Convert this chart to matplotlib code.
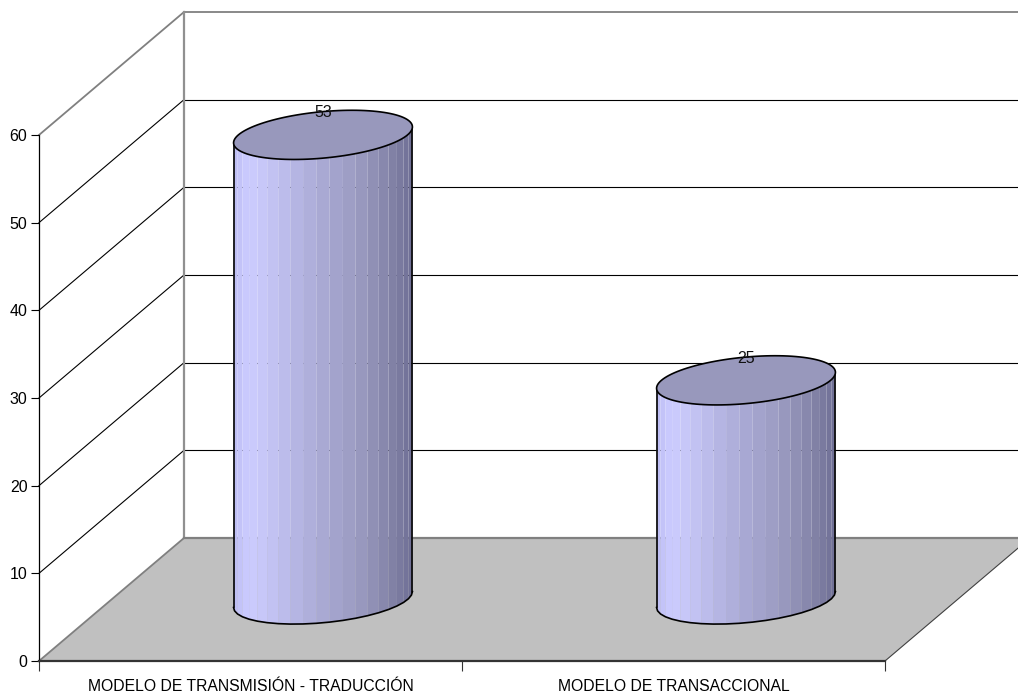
import numpy as np
import matplotlib
matplotlib.use("Agg")
import matplotlib.pyplot as plt
from matplotlib.colors import LinearSegmentedColormap

categories = ["MODELO DE TRANSMISIÓN - TRADUCCIÓN", "MODELO DE TRANSACCIONAL"]
values = [53, 25]
y_ticks = [0, 10, 20, 30, 40, 50, 60]

W, H = 1018, 695
# front plane of the 3D box, in pixels
X0, X1, Y0, Y60 = 39, 885, 661, 135
# depth of the box, in data units
DX = 145 / ((X1 - X0) / 2)
DY = 123 / ((Y0 - Y60) / 60)
BAR_W = 0.4
STRIPS = 21

plt.rcParams['font.family'] = ['Liberation Sans', 'DejaVu Sans']

fig = plt.figure(figsize=(W / 100, H / 100), dpi=100)
ax = fig.add_axes([X0 / W, 1 - Y0 / H, (X1 - X0) / W, (Y0 - Y60) / H])
ax.patch.set_visible(False)
ax.set_xlim(0, len(categories))
ax.set_ylim(y_ticks[0], y_ticks[-1])

# side wall, back wall and gridlines
xmax = len(categories)
for v in y_ticks[1:]:
    col = "#808080" if v == y_ticks[-1] else "black"
    lw = 1.3 if v == y_ticks[-1] else 0.8
    ax.plot([0, DX], [v, v + DY], color=col, lw=lw, zorder=1, clip_on=False)
    ax.plot([DX, xmax + DX], [v + DY, v + DY], color=col, lw=lw, zorder=1, clip_on=False)
ax.plot([DX, DX], [DY, y_ticks[-1] + DY], color="#909090", lw=1.6, zorder=1.2, clip_on=False)

# floor
ax.fill([0, xmax, xmax + DX, DX], [0, 0, DY, DY], color="#c0c0c0", lw=0, zorder=1.5, clip_on=False)
ax.plot([DX, xmax + DX], [DY, DY], color="#808080", lw=1.6, zorder=1.6, clip_on=False)
ax.plot([0, DX], [0, DY], color="#808080", lw=1.3, zorder=1.6, clip_on=False)
ax.plot([xmax, xmax + DX], [0, DY], color="#404040", lw=0.8, zorder=1.6, clip_on=False)

shade = LinearSegmentedColormap.from_list(
    "cyl", [(0, "#bcbcf2"), (0.08, "#ccccff"), (0.2, "#c4c4f4"), (0.45, "#acacd8"),
            (0.7, "#9a9ac0"), (0.9, "#8080a4"), (1, "#6e6e94")])


def ring(cx, base, t):
    # points on the cylinder's circle, sheared along the depth direction
    x = cx + BAR_W / 2 * np.cos(t) + BAR_W * DX / 2 * np.sin(t)
    y = base + BAR_W * DY / 2 * np.sin(t)
    return x, y


for i, val in enumerate(values):
    cx = i + 0.5 + DX / 2
    base = DY / 2

    # angles of the silhouette, going left to right along the front
    a = np.arctan2(DX, 1.0)
    t_front = np.linspace(np.pi + a, 2 * np.pi + a, STRIPS + 1)
    xb, yb = ring(cx, base, t_front)
    xt, yt = ring(cx, base + val, t_front)
    xmin_c, xmax_c = xb.min(), xb.max()
    for k in range(STRIPS):
        c = shade(((xb[k] + xb[k + 1]) / 2 - xmin_c) / (xmax_c - xmin_c))
        ax.fill([xb[k], xb[k + 1], xt[k + 1], xt[k]], [yb[k], yb[k + 1], yt[k + 1], yt[k]],
                facecolor=c, edgecolor="none", lw=0, zorder=3, clip_on=False)

    # outline of the body and the bottom edge
    ax.plot(xb, yb, color="black", lw=1.2, zorder=4, clip_on=False)
    ax.plot([xb[0], xt[0]], [yb[0], yt[0]], color="black", lw=1.2, zorder=4, clip_on=False)
    ax.plot([xb[-1], xt[-1]], [yb[-1], yt[-1]], color="black", lw=1.2, zorder=4, clip_on=False)

    # top cap
    t_all = np.linspace(0, 2 * np.pi, 121)
    xc, yc = ring(cx, base + val, t_all)
    ax.fill(xc, yc, facecolor="#9898bc", edgecolor="black", lw=1.2, zorder=5, clip_on=False)

    ax.annotate(str(val), (cx, base + val), xytext=(0, 16), textcoords="offset points",
                ha="center", va="center", fontsize=11.5, color="#111111", zorder=6)

# axes
for side in ("top", "right"):
    ax.spines[side].set_visible(False)
ax.spines["left"].set_linewidth(0.9)
ax.spines["bottom"].set_linewidth(1.6)
ax.spines["bottom"].set_color("#333333")
ax.set_yticks(y_ticks)
ax.tick_params(axis="y", length=5.8, width=0.8, pad=2.5, labelsize=11.5)
ax.set_xticks(range(xmax + 1))
ax.set_xticklabels([])
ax.tick_params(axis="x", which="major", length=7, width=0.8, color="#333333")
ax.set_xticks([i + 0.5 for i in range(xmax)], categories, minor=True)
ax.tick_params(axis="x", which="minor", length=0, pad=13, labelsize=11.3)

fig.savefig("out.png", dpi=100)
